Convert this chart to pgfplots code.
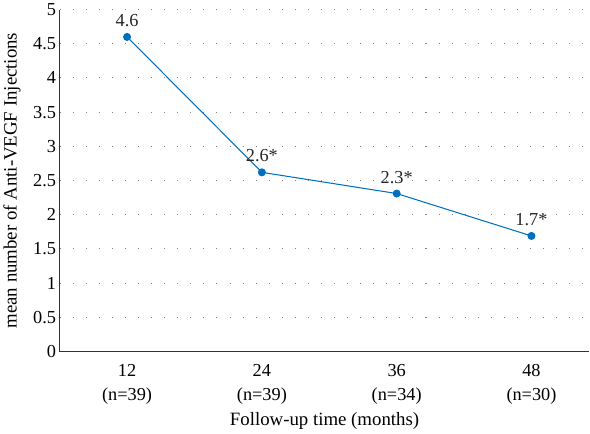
\documentclass[border=0pt]{standalone}
\usepackage{fontspec}
\setmainfont{Liberation Serif}
\usepackage{pgfplots}
\pgfplotsset{compat=1.18}
\definecolor{lineblue}{HTML}{0070C0}

\begin{document}
\begin{tikzpicture}
  \begin{axis}[
      scale only axis,
      width=505bp, height=326bp,
      xmin=-0.5, xmax=3.43,
      ymin=0, ymax=5,
      ytick={0,0.5,...,5},
      yticklabels={0,0.5,1,1.5,2,2.5,3,3.5,4,4.5,5},
      xtick={0,1,2,3},
      xticklabels={12\\[1pt](n=39),24\\[1pt](n=39),36\\[1pt](n=34),48\\[1pt](n=30)},
      xticklabel style={align=center, font=\fontsize{17.5}{22}\selectfont, yshift=-9pt},
      yticklabel style={font=\fontsize{17.5}{20}\selectfont},
      axis x line=bottom, axis y line=left,
      axis line style={-, line width=1.1pt, black!80},
      major tick length=0pt,
      ymajorgrids,
      grid style={gray, line width=1pt, dash pattern=on 1pt off 11.5pt},
      /pgf/number format/assume math mode=true,
      xlabel={Follow-up time (months)},
      ylabel={mean number of Anti-VEGF Injections},
      label style={font=\fontsize{18}{20}\selectfont},
      xlabel style={yshift=-1pt},
      ylabel style={yshift=5pt},
      nodes near coords,
      point meta=explicit symbolic,
      every node near coord/.append style={font=\fontsize{17.5}{20}\selectfont, black!85, yshift=6pt},
    ]
    \addplot[color=lineblue, line width=1pt, mark=*, mark size=3.3pt, mark options={fill=lineblue}]
      coordinates {(0,4.6)[4.6] (1,2.62)[2.6*] (2,2.31)[2.3*] (3,1.69)[1.7*]};
  \end{axis}
\end{tikzpicture}
\end{document}
